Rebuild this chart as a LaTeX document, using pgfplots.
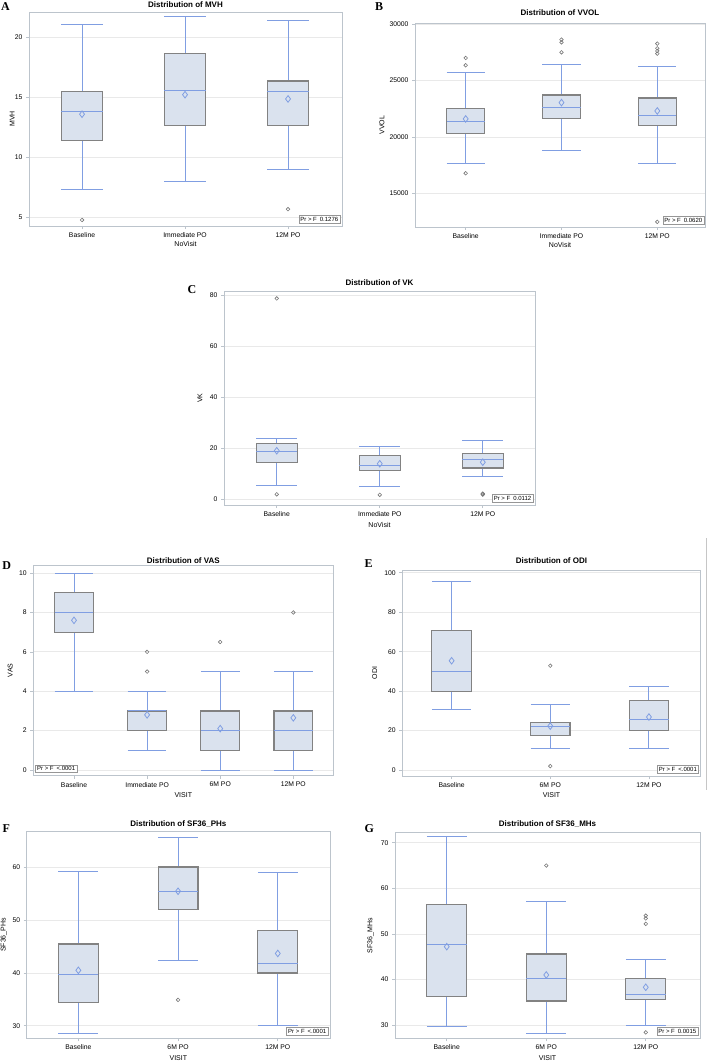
\documentclass[border=0pt]{standalone}
\usepackage{fontspec}
\setmainfont{Liberation Sans}
\newfontfamily\letterfont{Liberation Serif}
\usepackage{pgfplots}
\pgfplotsset{compat=1.18}
\usepgfplotslibrary{statistics}

\definecolor{boxfill}{RGB}{218,226,238}
\definecolor{boxgray}{RGB}{130,130,130}
\definecolor{sasblue}{RGB}{128,158,226}
\definecolor{outgray}{RGB}{120,120,120}
\definecolor{framegray}{RGB}{188,196,204}
\definecolor{gridgray}{RGB}{233,233,233}
\definecolor{prgray}{RGB}{150,150,150}

\tikzset{prbox/.style={draw=prgray, fill=white, font=\fontsize{6}{7}\selectfont, inner sep=1.6pt}}

\pgfplotsset{
  sas/.style={
    scale only axis, anchor=south west,
    axis line style={framegray, line width=0.9pt},
    tick align=outside, tick pos=left, major tick length=3pt,
    tick style={framegray, line width=0.6pt},
    ymajorgrids, grid style={gridgray, line width=0.7pt},
    xtick={0,1,2,3},
    tick label style={font=\fontsize{6.8}{7}\selectfont},
    /pgf/number format/assume math mode=true,
    /pgf/number format/set thousands separator={},
    scaled ticks=false,
    label style={font=\fontsize{7}{8}\selectfont},
    title style={font=\bfseries\fontsize{8}{9}\selectfont, at={(0.5,1)}, anchor=center},
    xlabel style={at={(axis description cs:0.5,0)}, anchor=center},
    ylabel style={anchor=center},
    boxplot/draw direction=y,
    boxplot/box extend=0.40,
    boxplot/whisker extend=0.40,
    boxplot/every box/.style={draw=boxgray, fill=boxfill, line width=1.2pt},
    boxplot/every whisker/.style={draw=sasblue, line width=0.85pt},
    boxplot/every median/.style={draw=sasblue, line width=0.85pt},
  },
  meanmk/.style={only marks, mark=diamond, mark size=3.3pt,
    mark options={draw=sasblue, fill=none, line width=0.8pt}},
  outmk/.style={only marks, mark=o, mark size=1.8pt,
    mark options={draw=outgray, line width=0.6pt}},
}

\begin{document}
\begin{tikzpicture}
\path[use as bounding box] (0pt,0pt) rectangle (708pt,-1062pt);
\draw[gray!45, line width=0.6pt] (706pt,-538pt) -- (706pt,-790pt);

% A
\begin{axis}[sas, at={(29pt,-226pt)}, width=313pt, height=214pt,
  xmin=-0.515, xmax=2.524, ymin=4.3, ymax=22.1,
  ytick={5,10,15,20}, xticklabels={Baseline,Immediate PO,12M PO},
  title={Distribution of MVH}, title style={yshift=1pt},
  xlabel={NoVisit}, xlabel style={yshift=-18pt},
  ylabel={MVH}, ylabel style={at={(axis description cs:-0.054,0.5)}}]
\addplot[boxplot prepared={draw position=0, lower whisker=7.31, lower quartile=11.39, median=13.79, upper quartile=15.5, upper whisker=21.1}] coordinates {};
\addplot[boxplot prepared={draw position=1, lower whisker=8.0, lower quartile=12.68, median=15.6, upper quartile=18.67, upper whisker=21.7}] coordinates {};
\addplot[boxplot prepared={draw position=2, lower whisker=9.0, lower quartile=12.68, median=15.5, upper quartile=16.36, upper whisker=21.4}] coordinates {};
\addplot[meanmk] coordinates {(0,13.6) (1,15.22) (2,14.87)};
\addplot[outmk] coordinates {(0,4.8) (2,5.7)};
\node[prbox, anchor=south east] at ([xshift=-2pt,yshift=3pt]rel axis cs:1,0) {Pr > F\enspace 0.1276};
\end{axis}

% B
\begin{axis}[sas, at={(415pt,-227pt)}, width=290pt, height=204pt,
  xmin=-0.529, xmax=2.498, ymin=12000, ymax=30115,
  ytick={15000,20000,25000,30000}, xticklabels={Baseline,Immediate PO,12M PO},
  title={Distribution of VVOL}, title style={yshift=4pt},
  xlabel={NoVisit}, xlabel style={yshift=-18pt},
  ylabel={VVOL}, ylabel style={at={(axis description cs:-0.114,0.5)}}]
\addplot[boxplot prepared={draw position=0, lower whisker=17602, lower quartile=20294, median=21419, upper quartile=22514, upper whisker=25739}] coordinates {};
\addplot[boxplot prepared={draw position=1, lower whisker=18815, lower quartile=21656, median=22632, upper quartile=23727, upper whisker=26479}] coordinates {};
\addplot[boxplot prepared={draw position=2, lower whisker=17631, lower quartile=21034, median=21922, upper quartile=23461, upper whisker=26242}] coordinates {};
\addplot[meanmk] coordinates {(0,21596) (1,23046) (2,22307)};
\addplot[outmk] coordinates {(0,27011) (0,26360) (0,16773) (1,28639) (1,28402) (1,27514) (2,28284) (2,27870) (2,27633) (2,27396) (2,12456)};
\node[prbox, anchor=south east] at ([xshift=-1pt,yshift=3pt]rel axis cs:1,0) {Pr > F\enspace 0.0620};
\end{axis}

% C
\begin{axis}[sas, at={(224pt,-505pt)}, width=311pt, height=214pt,
  xmin=-0.512, xmax=2.507, ymin=-2.2, ymax=81.8,
  ytick={0,20,40,60,80}, xticklabels={Baseline,Immediate PO,12M PO},
  title={Distribution of VK}, title style={yshift=2.7pt},
  xlabel={NoVisit}, xlabel style={yshift=-20pt},
  ylabel={VK}, ylabel style={at={(axis description cs:-0.077,0.5)}}]
\addplot[boxplot prepared={draw position=0, lower whisker=5.5, lower quartile=14.5, median=18.8, upper quartile=21.96, upper whisker=23.9}] coordinates {};
\addplot[boxplot prepared={draw position=1, lower whisker=5.2, lower quartile=11.2, median=13.5, upper quartile=17.1, upper whisker=20.65}] coordinates {};
\addplot[boxplot prepared={draw position=2, lower whisker=9.0, lower quartile=12.3, median=15.7, upper quartile=18.0, upper whisker=23.1}] coordinates {};
\addplot[meanmk] coordinates {(0,19.1) (1,14.0) (2,14.6)};
\addplot[outmk] coordinates {(0,78.9) (0,2.0) (1,1.8) (2,2.1) (2,2.3) (2,1.9)};
\node[prbox, anchor=south east] at ([xshift=-2pt,yshift=3pt]rel axis cs:1,0) {Pr > F\enspace 0.0112};
\end{axis}

% D
\begin{axis}[sas, at={(33.3pt,-775.7pt)}, width=300pt, height=210.7pt,
  boxplot/box extend=0.53, boxplot/whisker extend=0.53,
  xmin=-0.557, xmax=3.547, ymin=-0.29, ymax=10.41,
  ytick={0,2,4,6,8,10}, xticklabels={Baseline,Immediate PO,6M PO,12M PO},
  title={Distribution of VAS}, title style={yshift=-1.5pt},
  xlabel={VISIT}, xlabel style={yshift=-19.5pt},
  ylabel={VAS}, ylabel style={at={(axis description cs:-0.077,0.5)}}]
\addplot[boxplot prepared={draw position=0, lower whisker=4, lower quartile=7, median=8, upper quartile=9, upper whisker=10}] coordinates {};
\addplot[boxplot prepared={draw position=1, lower whisker=1, lower quartile=2, median=3, upper quartile=3, upper whisker=4}] coordinates {};
\addplot[boxplot prepared={draw position=2, lower whisker=0, lower quartile=1, median=2, upper quartile=3, upper whisker=5}] coordinates {};
\addplot[boxplot prepared={draw position=3, lower whisker=0, lower quartile=1, median=2, upper quartile=3, upper whisker=5}] coordinates {};
\addplot[meanmk] coordinates {(0,7.6) (1,2.8) (2,2.1) (3,2.65)};
\addplot[outmk] coordinates {(1,6) (1,5) (2,6.5) (3,8)};
\node[prbox, anchor=south west] at ([xshift=2pt,yshift=3pt]rel axis cs:0,0) {Pr > F\enspace <.0001};
\end{axis}

% E
\begin{axis}[sas, at={(402.3pt,-776pt)}, width=298.4pt, height=206pt,
  xmin=-0.5, xmax=2.525, ymin=-3.0, ymax=101.4,
  ytick={0,20,40,60,80,100}, xticklabels={Baseline,6M PO,12M PO},
  title={Distribution of ODI}, title style={yshift=3.3pt},
  xlabel={VISIT}, xlabel style={yshift=-19.5pt},
  ylabel={ODI}, ylabel style={at={(axis description cs:-0.0925,0.5)}}]
\addplot[boxplot prepared={draw position=0, lower whisker=30.9, lower quartile=40.0, median=50.0, upper quartile=70.9, upper whisker=95.4}] coordinates {};
\addplot[boxplot prepared={draw position=1, lower whisker=11.0, lower quartile=17.7, median=22.1, upper quartile=24.3, upper whisker=33.3}] coordinates {};
\addplot[boxplot prepared={draw position=2, lower whisker=11.0, lower quartile=19.9, median=25.7, upper quartile=35.3, upper whisker=42.2}] coordinates {};
\addplot[meanmk] coordinates {(0,55.4) (1,22.3) (2,26.9)};
\addplot[outmk] coordinates {(1,52.9) (1,2.0)};
\node[prbox, anchor=south east] at ([xshift=-2pt,yshift=3pt]rel axis cs:1,0) {Pr > F\enspace <.0001};
\end{axis}

% F
\begin{axis}[sas, at={(26.7pt,-1038.3pt)}, width=303.3pt, height=206.6pt,
  xmin=-0.518, xmax=2.524, ymin=27.6, ymax=66.8,
  ytick={30,40,50,60}, xticklabels={Baseline,6M PO,12M PO},
  title={Distribution of SF36\_PHs}, title style={yshift=1.7pt},
  xlabel={VISIT}, xlabel style={yshift=-19.5pt},
  ylabel={SF36\_PHs}, ylabel style={at={(axis description cs:-0.075,0.5)}}]
\addplot[boxplot prepared={draw position=0, lower whisker=28.5, lower quartile=34.4, median=39.7, upper quartile=45.5, upper whisker=59.3}] coordinates {};
\addplot[boxplot prepared={draw position=1, lower whisker=42.4, lower quartile=52.1, median=55.5, upper quartile=60.1, upper whisker=65.8}] coordinates {};
\addplot[boxplot prepared={draw position=2, lower whisker=30.0, lower quartile=40.0, median=41.8, upper quartile=48.0, upper whisker=59.0}] coordinates {};
\addplot[meanmk] coordinates {(0,40.5) (1,55.5) (2,43.7)};
\addplot[outmk] coordinates {(1,34.9)};
\node[prbox, anchor=south east] at ([xshift=-2pt,yshift=3pt]rel axis cs:1,0) {Pr > F\enspace <.0001};
\end{axis}

% G
\begin{axis}[sas, at={(395pt,-1038.3pt)}, width=305pt, height=205.6pt,
  xmin=-0.52, xmax=2.545, ymin=27.1, ymax=72.2,
  ytick={30,40,50,60,70}, xticklabels={Baseline,6M PO,12M PO},
  title={Distribution of SF36\_MHs}, title style={yshift=2.7pt},
  xlabel={VISIT}, xlabel style={yshift=-19.5pt},
  ylabel={SF36\_MHs}, ylabel style={at={(axis description cs:-0.08,0.5)}}]
\addplot[boxplot prepared={draw position=0, lower whisker=29.6, lower quartile=36.2, median=47.8, upper quartile=56.5, upper whisker=71.3}] coordinates {};
\addplot[boxplot prepared={draw position=1, lower whisker=28.1, lower quartile=35.3, median=40.2, upper quartile=45.6, upper whisker=57.2}] coordinates {};
\addplot[boxplot prepared={draw position=2, lower whisker=29.9, lower quartile=35.6, median=36.7, upper quartile=40.2, upper whisker=44.3}] coordinates {};
\addplot[meanmk] coordinates {(0,47.2) (1,41.0) (2,38.3)};
\addplot[outmk] coordinates {(1,65.0) (2,54.0) (2,53.4) (2,52.2) (2,28.4)};
\node[prbox, anchor=south east] at ([xshift=-2pt,yshift=3pt]rel axis cs:1,0) {Pr > F\enspace 0.0015};
\end{axis}

% panel letters
\begin{scope}[every node/.style={font=\letterfont\bfseries\fontsize{12}{12}\selectfont}]
\node at (5.5pt,-6.7pt) {A};
\node at (379pt,-6.2pt) {B};
\node at (192pt,-289.5pt) {C};
\node at (6.7pt,-565.3pt) {D};
\node at (368.5pt,-563.5pt) {E};
\node at (6.3pt,-828.3pt) {F};
\node at (369.3pt,-829pt) {G};
\end{scope}
\end{tikzpicture}
\end{document}
